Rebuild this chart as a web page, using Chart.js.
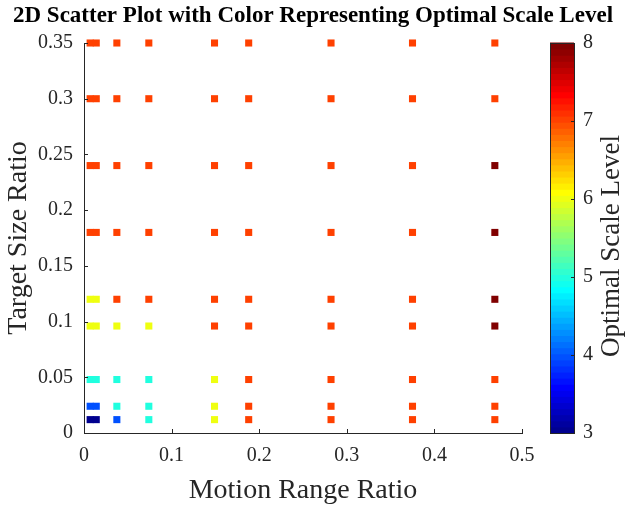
<!DOCTYPE html>
<html>
<head>
<meta charset="utf-8">
<script src="https://cdn.jsdelivr.net/npm/chart.js@4"></script>
<style>
  body { margin: 0; background: #fff; }
  canvas { display: block; }
</style>
</head>
<body>
<canvas id="scatter" width="626" height="507"></canvas>
<script>
"use strict";

// data
const motionRange = [0.007, 0.014, 0.0375, 0.074, 0.149, 0.188, 0.282, 0.375, 0.469];
const targetSize = [0.012, 0.024, 0.048, 0.096, 0.12, 0.18, 0.24, 0.30, 0.35];
// optimal scale level per motion range column, bottom row first
const levels = [
    [3, 4, 5, 6, 6, 7, 7, 7, 7],
    [3, 4, 5, 6, 6, 7, 7, 7, 7],
    [4, 5, 5, 6, 7, 7, 7, 7, 7],
    [5, 5, 5, 6, 7, 7, 7, 7, 7],
    [6, 6, 6, 7, 7, 7, 7, 7, 7],
    [7, 7, 7, 7, 7, 7, 7, 7, 7],
    [7, 7, 7, 7, 7, 7, 7, 7, 7],
    [7, 7, 7, 7, 7, 7, 7, 7, 7],
    [7, 7, 7, 8, 8, 8, 8, 7, 7]
];
const levelMin = 3;
const levelMax = 8;
const xTicks = [0, 0.1, 0.2, 0.3, 0.4, 0.5];
const yTicks = [0, 0.05, 0.1, 0.15, 0.2, 0.25, 0.3, 0.35];

const FONT = "'Liberation Serif', 'Times New Roman', serif";
const INK = '#262626';

// MATLAB jet(64), row k = 1..64
function jetRow(k) {
    function u(i) {
        if (i < 1 || i > 47) return 0;
        if (i <= 16) return i / 16;
        if (i <= 31) return 1;
        return (48 - i) / 16;
    }
    const r = u(k - 24), g = u(k - 8), b = u(k + 8);
    return 'rgb(' + Math.round(r * 255) + ',' + Math.round(g * 255) + ',' + Math.round(b * 255) + ')';
}

function levelColor(v) {
    let k = Math.floor((v - levelMin) / (levelMax - levelMin) * 64) + 1;
    k = Math.min(64, Math.max(1, k));
    return jetRow(k);
}

const points = [];
const colors = [];
for (let c = 0; c < motionRange.length; c++) {
    for (let r = 0; r < targetSize.length; r++) {
        points.push({ x: motionRange[c], y: targetSize[r] });
        colors.push(levelColor(levels[c][r]));
    }
}

function fmt(v) {
    return String(parseFloat(v.toFixed(3)));
}

// inward ticks, colorbar and its label
const overlay = {
    id: 'overlay',
    afterDraw(chart) {
        const ctx = chart.ctx;
        const xs = chart.scales.x, ys = chart.scales.y, cb = chart.scales.cb;
        const area = chart.chartArea;
        ctx.save();
        ctx.strokeStyle = INK;
        ctx.lineWidth = 1;
        ctx.beginPath();
        xTicks.forEach(function (t) {
            const px = Math.round(xs.getPixelForValue(t)) + 0.5;
            ctx.moveTo(px, area.bottom);
            ctx.lineTo(px, area.bottom - 4);
        });
        yTicks.forEach(function (t) {
            const py = Math.round(ys.getPixelForValue(t)) + 0.5;
            ctx.moveTo(area.left, py);
            ctx.lineTo(area.left + 4, py);
        });
        ctx.stroke();

        const barL = cb.left + 28, barR = cb.left + 52;
        for (let k = 1; k <= 64; k++) {
            const yBot = cb.getPixelForValue(levelMin + (k - 1) * (levelMax - levelMin) / 64);
            const yTop = cb.getPixelForValue(levelMin + k * (levelMax - levelMin) / 64);
            ctx.fillStyle = jetRow(k);
            ctx.fillRect(barL, yTop - 0.5, barR - barL, yBot - yTop + 1);
        }
        ctx.strokeStyle = INK;
        ctx.strokeRect(barL + 0.5, Math.round(cb.top) + 0.5, barR - barL, Math.round(cb.bottom - cb.top));
        ctx.beginPath();
        for (let v = levelMin; v <= levelMax; v++) {
            const py = Math.round(cb.getPixelForValue(v)) + 0.5;
            ctx.moveTo(barR, py);
            ctx.lineTo(barR - 3, py);
        }
        ctx.stroke();

        ctx.translate(612, (cb.top + cb.bottom) / 2 + 8);
        ctx.rotate(-Math.PI / 2);
        ctx.fillStyle = INK;
        ctx.font = '27px ' + FONT;
        ctx.textAlign = 'center';
        ctx.textBaseline = 'middle';
        ctx.fillText('Optimal Scale Level', 0, 0);
        ctx.restore();
    }
};

new Chart(document.getElementById('scatter').getContext('2d'), {
    type: 'scatter',
    data: {
        datasets: [{
            data: points,
            pointStyle: 'rect',
            pointRadius: 5,
            pointBorderWidth: 0,
            pointBackgroundColor: colors,
            clip: false
        }]
    },
    options: {
        responsive: false,
        animation: false,
        events: [],
        layout: { padding: 0 },
        plugins: {
            legend: { display: false },
            tooltip: { enabled: false },
            title: {
                display: true,
                text: '2D Scatter Plot with Color Representing Optimal Scale Level',
                color: '#000',
                font: { family: FONT, size: 23, weight: 'bold' },
                padding: { top: 2, bottom: 13.4 }
            }
        },
        scales: {
            x: {
                type: 'linear',
                min: 0,
                max: 0.5,
                afterBuildTicks: function (s) { s.ticks = xTicks.map(v => ({ value: v })); },
                ticks: { padding: 11, color: INK, font: { family: FONT, size: 20 }, callback: fmt },
                grid: { drawOnChartArea: false, drawTicks: false },
                border: { display: true, color: INK, width: 1 },
                title: {
                    display: true,
                    text: 'Motion Range Ratio',
                    color: INK,
                    font: { family: FONT, size: 28 },
                    padding: { top: 0, bottom: 0 }
                },
                afterFit: function (s) { s.height = 74; }
            },
            y: {
                type: 'linear',
                min: 0,
                max: 0.35,
                afterBuildTicks: function (s) { s.ticks = yTicks.map(v => ({ value: v })); },
                ticks: { padding: 11, color: INK, font: { family: FONT, size: 20 }, callback: fmt },
                grid: { drawOnChartArea: false, drawTicks: false },
                border: { display: true, color: INK, width: 1 },
                title: {
                    display: true,
                    text: 'Target Size Ratio',
                    color: INK,
                    font: { family: FONT, size: 28 },
                    padding: { top: 2, bottom: 0 }
                },
                afterFit: function (s) { s.width = 84; }
            },
            cb: {
                type: 'linear',
                position: 'right',
                min: levelMin,
                max: levelMax,
                ticks: { stepSize: 1, padding: 3, color: INK, font: { family: FONT, size: 20 } },
                grid: { display: false, drawTicks: true, tickLength: 58 },
                border: { display: false },
                afterFit: function (s) { s.width = 104; }
            }
        }
    },
    plugins: [overlay]
});
</script>
</body>
</html>
